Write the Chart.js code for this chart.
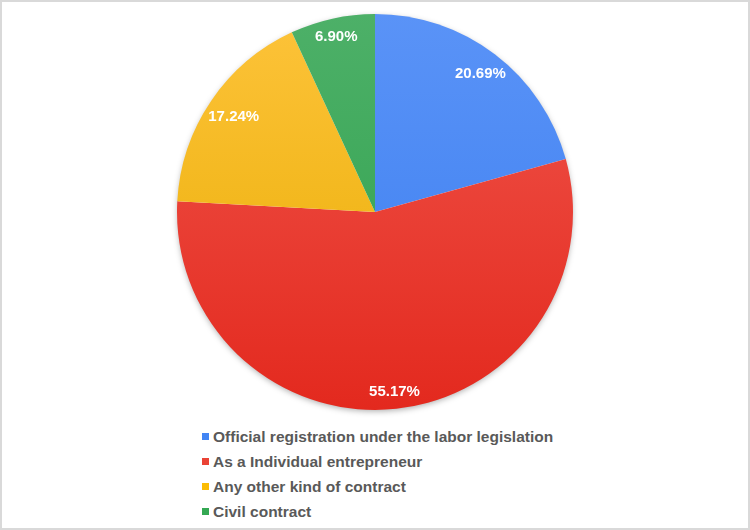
<!DOCTYPE html>
<html>
<head>
<meta charset="utf-8">
<script src="https://cdn.jsdelivr.net/npm/chart.js@4/dist/chart.umd.min.js"></script>
<style>
    body { margin: 0; background: #fff; }
    #wrap { position: relative; width: 750px; height: 530px; overflow: hidden; }
    #frame { position: absolute; left: 0; top: 0; width: 750px; height: 530px; box-sizing: border-box; border: 2px solid #d9d9d9; pointer-events: none; }
    #pieBox { position: absolute; left: 0; top: 0; width: 750px; height: 424px; }
    #legend { position: absolute; left: 202px; top: 427px; font: bold 15.5px "Liberation Sans", Arial, sans-serif; color: #595959; }
    .item { height: 25px; line-height: 20px; white-space: nowrap; }
    .item span { display: inline-block; width: 7px; height: 7px; margin-right: 4px; vertical-align: 2px; }
</style>
</head>
<body>
<div id="wrap">
    <div id="pieBox"><canvas id="pieChart"></canvas></div>
    <div id="legend"></div>
    <div id="frame"></div>
</div>
<script>
// Categorías y valores (%)
const labels = [
    "Official registration under the labor legislation",
    "As a Individual entrepreneur",
    "Any other kind of contract",
    "Civil contract",
];
const values = [20.69, 55.17, 17.24, 6.90];
const valueLabels = ["20.69%", "55.17%", "17.24%", "6.90%"];

// Colores: arriba claro, abajo oscuro
const topColors = ["#5a93f7", "#f0564c", "#fdc33a", "#4db068"];
const bottomColors = ["#3b7ef0", "#e3291e", "#e8ac00", "#2ea14c"];
const legendColors = ["#4285f4", "#ea4335", "#fbbc04", "#34a853"];

// Sombra suave debajo del pastel
const shadowPlugin = {
    id: "pieShadow",
    beforeDatasetsDraw(chart) {
        const arc = chart.getDatasetMeta(0).data[0];
        if (!arc) return;
        const ctx = chart.ctx;
        ctx.save();
        ctx.shadowColor = "rgba(0,0,0,0.35)";
        ctx.shadowBlur = 6;
        ctx.shadowOffsetY = 2;
        ctx.fillStyle = "#ffffff";
        ctx.beginPath();
        ctx.arc(arc.x, arc.y, arc.outerRadius - 1, 0, Math.PI * 2);
        ctx.fill();
        ctx.restore();
    },
};

// Etiquetas de porcentaje dentro de cada porción (se acercan al centro si no caben)
const sliceLabels = {
    id: "sliceLabels",
    afterDatasetsDraw(chart) {
        const ctx = chart.ctx;
        ctx.save();
        ctx.fillStyle = "#ffffff";
        ctx.font = "bold 15px 'Liberation Sans', Arial, sans-serif";
        ctx.textAlign = "center";
        ctx.textBaseline = "middle";
        chart.getDatasetMeta(0).data.forEach((arc, i) => {
            const mid = (arc.startAngle + arc.endAngle) / 2;
            const r = arc.outerRadius;
            const halfW = ctx.measureText(valueLabels[i]).width / 2;
            const halfH = 7;
            let d = r * 0.91;
            while (d > r * 0.5) {
                const cx = Math.cos(mid) * d;
                const cy = Math.sin(mid) * d;
                const fx = Math.abs(cx) + halfW;
                const fy = Math.abs(cy) + halfH;
                if (Math.sqrt(fx * fx + fy * fy) <= r - 2) break;
                d -= 0.5;
            }
            ctx.fillText(valueLabels[i], arc.x + Math.cos(mid) * d, arc.y + Math.sin(mid) * d + 1);
        });
        ctx.restore();
    },
};

function sliceGradient(context) {
    const chart = context.chart;
    const area = chart.chartArea;
    if (!area) return legendColors[context.dataIndex];
    const g = chart.ctx.createLinearGradient(0, area.top, 0, area.bottom);
    g.addColorStop(0, topColors[context.dataIndex]);
    g.addColorStop(1, bottomColors[context.dataIndex]);
    return g;
}

new Chart(document.getElementById("pieChart").getContext("2d"), {
    type: "pie",
    data: {
        labels: labels,
        datasets: [{ data: values, backgroundColor: sliceGradient, borderWidth: 0 }],
    },
    options: {
        responsive: true,
        maintainAspectRatio: false,
        animation: false,
        layout: { padding: { top: 14, bottom: 14 } },
        plugins: { legend: { display: false }, tooltip: { enabled: false } },
    },
    plugins: [shadowPlugin, sliceLabels],
});

// Leyenda en HTML, una entrada por fila
const legendEl = document.getElementById("legend");
labels.forEach((name, i) => {
    const row = document.createElement("div");
    row.className = "item";
    const box = document.createElement("span");
    box.style.background = legendColors[i];
    row.appendChild(box);
    row.appendChild(document.createTextNode(name));
    legendEl.appendChild(row);
});
</script>
</body>
</html>
